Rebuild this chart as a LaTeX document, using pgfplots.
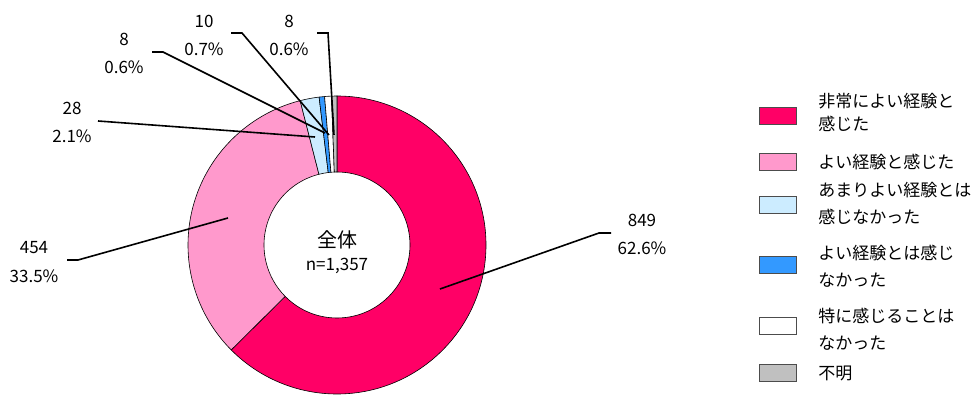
\documentclass[border=0pt]{standalone}
\usepackage{pgfplots}
\usepackage{pgfplotstable}
\pgfplotsset{compat=1.18}
\usepackage{fontspec}
\setmainfont{Noto Sans CJK JP}

\definecolor{c1}{HTML}{FF0066}
\definecolor{c2}{HTML}{FF99CC}
\definecolor{c3}{HTML}{CCECFF}
\definecolor{c4}{HTML}{3399FF}
\definecolor{c5}{HTML}{FFFFFF}
\definecolor{c6}{HTML}{C0C0C0}

% value and fill colour of each slice, clockwise from 12 o'clock
\pgfplotstableread{
value color
849 c1
454 c2
28 c3
8 c4
10 c5
8 c6
}\pietable

\begin{document}
\begin{tikzpicture}[every node/.style={font=\fontsize{12.75}{15}\selectfont, inner sep=0pt, text=black}]
\begin{axis}[x=0.75pt, y=0.75pt, xmin=-337, xmax=638, ymin=-151, ymax=245,
  hide axis, clip=false, scale only axis]
\coordinate (BL) at (axis cs:-337,-151);
\coordinate (TR) at (axis cs:638,245);
\def\cum{0}
\pgfplotsforeachungrouped \i in {0,...,5}{%
  \pgfplotstablegetelem{\i}{value}\of\pietable \let\v\pgfplotsretval
  \pgfplotstablegetelem{\i}{color}\of\pietable \let\c\pgfplotsretval
  \pgfmathsetmacro\aone{90-\cum/1357*360}%
  \pgfmathsetmacro\cum{\cum+\v}%
  \pgfmathsetmacro\atwo{90-\cum/1357*360}%
  \pgfmathsetmacro\xa{149*cos(\aone)}%
  \pgfmathsetmacro\ya{149*sin(\aone)}%
  \pgfmathsetmacro\xb{73*cos(\atwo)}%
  \pgfmathsetmacro\yb{73*sin(\atwo)}%
  \edef\temp{\noexpand\filldraw[fill=\c, draw=black, line width=0.45pt]
    (axis cs:\xa,\ya) arc[start angle=\aone, end angle=\atwo, radius=111.75pt]
    -- (axis cs:\xb,\yb) arc[start angle=\atwo, end angle=\aone, radius=54.75pt] -- cycle;}%
  \temp
}
% leader lines
\draw[line width=1.2pt] (axis cs:103,-44) -- (axis cs:262,12) -- (axis cs:274,12);
\draw[line width=1.2pt] (axis cs:-109,27) -- (axis cs:-259,-15) -- (axis cs:-270,-15);
\draw[line width=1.2pt] (axis cs:-22,108) -- (axis cs:-239,124);
\draw[line width=1.2pt] (axis cs:-12,112) -- (axis cs:-174,193) -- (axis cs:-185,193);
\draw[line width=1.2pt] (axis cs:-8,110) -- (axis cs:-95,212) -- (axis cs:-106,212);
\draw[line width=1.2pt] (axis cs:-3,110) -- (axis cs:-9,212) -- (axis cs:-20,212);
% data labels
\node at (axis cs:305,25) {849};   \node at (axis cs:305,-3) {62.6\%};
\node at (axis cs:-303,-3) {454};  \node at (axis cs:-303,-31) {33.5\%};
\node at (axis cs:-265,137) {28};  \node at (axis cs:-265,109) {2.1\%};
\node at (axis cs:-213,206) {8};   \node at (axis cs:-213,178) {0.6\%};
\node at (axis cs:-133,224) {10};  \node at (axis cs:-133,196) {0.7\%};
\node at (axis cs:-48,224) {8};    \node at (axis cs:-48,196) {0.6\%};
% centre
\node at (axis cs:0,5) {\fontsize{15}{17}\selectfont 全体};
\node at (axis cs:0,-21) {n=1,357};
% legend
\filldraw[fill=c1, draw=black!70, line width=0.6pt] (axis cs:422,120.5) rectangle (axis cs:459,137.5);
\filldraw[fill=c2, draw=black!70, line width=0.6pt] (axis cs:422,74.5) rectangle (axis cs:459,91.5);
\filldraw[fill=c3, draw=black!70, line width=0.6pt] (axis cs:422,31.5) rectangle (axis cs:459,48.5);
\filldraw[fill=c4, draw=black!70, line width=0.6pt] (axis cs:422,-28.5) rectangle (axis cs:459,-11.5);
\filldraw[fill=c5, draw=black!70, line width=0.6pt] (axis cs:422,-89.5) rectangle (axis cs:459,-72.5);
\filldraw[fill=c6, draw=black!70, line width=0.6pt] (axis cs:422,-136.5) rectangle (axis cs:459,-119.5);
\node[anchor=west] at (axis cs:481,144) {非常によい経験と};
\node[anchor=west] at (axis cs:481,121) {感じた};
\node[anchor=west] at (axis cs:481,83) {よい経験と感じた};
\node[anchor=west] at (axis cs:481,55) {あまりよい経験とは};
\node[anchor=west] at (axis cs:481,28) {感じなかった};
\node[anchor=west] at (axis cs:481,-8) {よい経験とは感じ};
\node[anchor=west] at (axis cs:481,-35) {なかった};
\node[anchor=west] at (axis cs:481,-71) {特に感じることは};
\node[anchor=west] at (axis cs:481,-98) {なかった};
\node[anchor=west] at (axis cs:481,-128) {不明};
\end{axis}
\pgfresetboundingbox
\path (BL) rectangle (TR);
\end{tikzpicture}
\end{document}
